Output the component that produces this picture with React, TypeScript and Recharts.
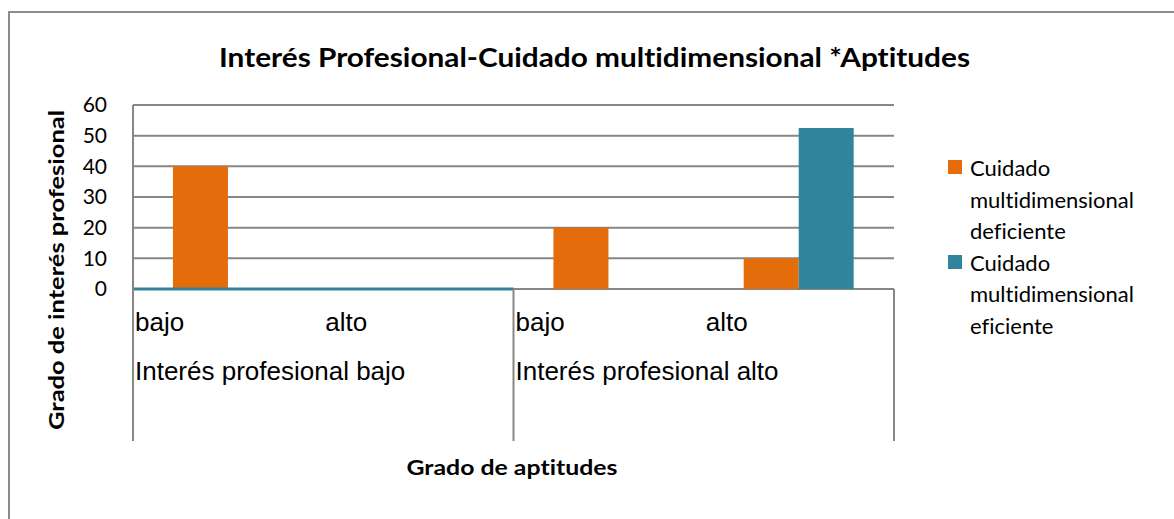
import { BarChart, Bar, XAxis, YAxis, CartesianGrid, Legend, ReferenceLine } from "recharts";

const aptitudes = ["bajo", "alto", "bajo", "alto"];
const grupos = [
  "Interés profesional bajo",
  "Interés profesional bajo",
  "Interés profesional alto",
  "Interés profesional alto",
];
const deficiente = [40, 0, 20, 10];
const eficiente = [0, 0, 0, 52.5];
const yTicks = [0, 10, 20, 30, 40, 50, 60];

const data = aptitudes.map((a, i) => ({
  key: String(i),
  aptitud: a,
  grupo: grupos[i],
  deficiente: deficiente[i],
  eficiente: eficiente[i],
}));

const GRID = "#868686";
const ORANGE = "#E46C0A";
const TEAL = "#31849B";
const CALIBRI = "Lato, 'Open Sans', sans-serif";
const ARIAL = "'Liberation Sans', Arial, sans-serif";
const noLig = { fontVariantLigatures: "none" as const };

function CategoryTick(props: any) {
  const { x, y, payload, index, width } = props;
  const half = payload?.offset || (width ? width / (2 * data.length) : 95);
  const left = x - half;
  const row = data[index];
  const first = index === 0 || data[index - 1].grupo !== row.grupo;
  const last = index === data.length - 1;
  return (
    <g>
      <text x={left + 2} y={y + 42} fontFamily={ARIAL} fontSize={26} fill="#000">
        {row.aptitud}
      </text>
      {first && (
        <>
          <line x1={left} x2={left} y1={y} y2={y + 152} stroke={GRID} strokeWidth={2} />
          <text x={left + 2} y={y + 91} fontFamily={ARIAL} fontSize={26} fill="#000">
            {row.grupo}
          </text>
        </>
      )}
      {last && (
        <line x1={left + 2 * half} x2={left + 2 * half} y1={y} y2={y + 152} stroke={GRID} strokeWidth={2} />
      )}
    </g>
  );
}

function LegendContent(props: any) {
  const items = props.payload || [];
  return (
    <div
      style={{
        width: 200,
        fontFamily: CALIBRI,
        fontSize: 22,
        lineHeight: "31.5px",
        color: "#000",
        ...noLig,
      }}
    >
      {items.map((item: any) => (
        <div key={item.value} style={{ display: "flex", alignItems: "flex-start" }}>
          <span
            style={{
              width: 14,
              height: 14,
              background: item.color,
              marginTop: 8,
              marginRight: 8,
              flex: "none",
            }}
          />
          <span style={{ width: 178 }}>{item.value}</span>
        </div>
      ))}
    </div>
  );
}

export default function App() {
  return (
    <div style={{ position: "absolute", left: 0, top: 0, width: 1174, height: 519, background: "#fff" }}>
      <BarChart
        width={1174}
        height={519}
        data={data}
        margin={{ top: 105, right: 80, bottom: 78, left: 0 }}
        barCategoryGap="21%"
        barGap={0}
      >
        <CartesianGrid vertical={false} stroke={GRID} strokeWidth={2} />
        <XAxis
          dataKey="key"
          height={152}
          interval={0}
          tickLine={false}
          tickSize={0}
          tickMargin={0}
          axisLine={false}
          tick={<CategoryTick />}
          label={{
            content: () => (
              <text
                x={512}
                y={475}
                textAnchor="middle"
                fontFamily={CALIBRI}
                fontWeight="bold"
                fontSize={21}
                textLength={211}
                lengthAdjust="spacingAndGlyphs"
                fill="#000"
                style={noLig}
              >
                Grado de aptitudes
              </text>
            ),
          }}
        />
        <YAxis
          domain={[0, 60]}
          ticks={yTicks}
          width={133}
          tickLine={false}
          tickSize={0}
          tickMargin={26}
          axisLine={{ stroke: GRID, strokeWidth: 2 }}
          tick={{ fontFamily: CALIBRI, fontSize: 21, fill: "#000" }}
          label={{
            content: () => (
              <text
                x={55}
                y={270}
                transform="rotate(-90 55 270)"
                textAnchor="middle"
                dominantBaseline="central"
                fontFamily={CALIBRI}
                fontWeight="bold"
                fontSize={21}
                textLength={320}
                lengthAdjust="spacingAndGlyphs"
                fill="#000"
                style={noLig}
              >
                Grado de interés profesional
              </text>
            ),
          }}
        />
        <Legend
          layout="vertical"
          align="right"
          verticalAlign="top"
          content={<LegendContent />}
          wrapperStyle={{ position: "absolute", left: 948, top: 152, width: 200 }}
        />
        <Bar
          dataKey="deficiente"
          name="Cuidado multidimensional deficiente"
          fill={ORANGE}
          isAnimationActive={false}
        />
        <Bar
          dataKey="eficiente"
          name="Cuidado multidimensional eficiente"
          fill={TEAL}
          isAnimationActive={false}
        />
        <ReferenceLine
          segment={[
            { x: "0", y: 0 },
            { x: "2", y: 0 },
          ]}
          position="start"
          stroke={TEAL}
          strokeWidth={3}
        />
      </BarChart>
      <svg
        width={1174}
        height={519}
        style={{ position: "absolute", left: 0, top: 0, pointerEvents: "none" }}
      >
        <path d="M 9 519 L 9 12 L 1174 12" fill="none" stroke="#8c8c8c" strokeWidth={2} />
        <text
          x={594.5}
          y={66.5}
          textAnchor="middle"
          fontFamily={CALIBRI}
          fontWeight="bold"
          fontSize={27}
          textLength={751}
          lengthAdjust="spacingAndGlyphs"
          fill="#000"
          style={noLig}
        >
          Interés Profesional-Cuidado multidimensional *Aptitudes
        </text>
      </svg>
    </div>
  );
}
